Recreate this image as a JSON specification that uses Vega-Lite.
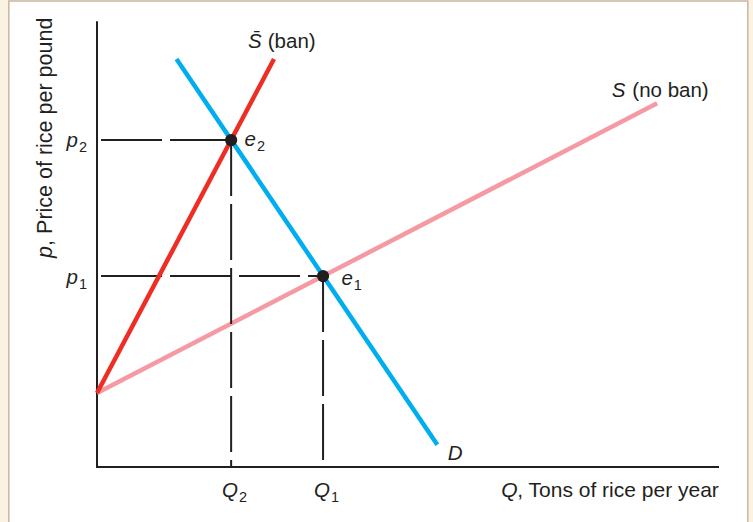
{
  "$schema": "https://vega.github.io/schema/vega-lite/v6.json",
  "width": 621,
  "height": 443,
  "autosize": {"type": "none"},
  "padding": {"left": 97, "top": 24, "right": 35, "bottom": 55},
  "background": "#FBF3E1",
  "config": {
    "view": {"stroke": null},
    "font": "Liberation Sans",
    "text": {"font": "Liberation Sans", "color": "#231F20", "fontSize": 20.5, "baseline": "alphabetic"}
  },
  "datasets": {
    "panel": [{"q": -14.2, "q2": 104.8, "p": 105.2, "p2": -14}],
    "axes": [
      {"axis": "Q", "q": 0, "p": 0, "q2": 100, "p2": 0},
      {"axis": "p", "q": 0, "p": 0, "q2": 0, "p2": 100.4}
    ],
    "curves": [
      {"curve": "S (no ban)", "q": 0, "p": 16.7},
      {"curve": "S (no ban)", "q": 90.2, "p": 82.1},
      {"curve": "S ban", "q": 0, "p": 16.7},
      {"curve": "S ban", "q": 28.5, "p": 92.1},
      {"curve": "D", "q": 12.8, "p": 92.1},
      {"curve": "D", "q": 54.8, "p": 5.0}
    ],
    "hGuides": [
      {"guide": "p2", "q": 0.65, "p": 73.8},
      {"guide": "p2", "q": 21.6, "p": 73.8},
      {"guide": "p1", "q": 0.65, "p": 43.1},
      {"guide": "p1", "q": 36.4, "p": 43.1}
    ],
    "vGuides": [
      {"guide": "Q2", "q": 21.6, "p": 73.8},
      {"guide": "Q2", "q": 21.6, "p": 0},
      {"guide": "Q1", "q": 36.4, "p": 43.1},
      {"guide": "Q1", "q": 36.4, "p": 0}
    ],
    "equilibria": [
      {"name": "e2", "q": 21.6, "p": 73.8},
      {"name": "e1", "q": 36.4, "p": 43.1}
    ],
    "indexed": [
      {"sym": "p", "sub": "2", "q": -3.06, "p": 72.2},
      {"sym": "p", "sub": "1", "q": -3.06, "p": 41.3},
      {"sym": "e", "sub": "2", "q": 25.6, "p": 72.5},
      {"sym": "e", "sub": "1", "q": 41.2, "p": 41.1},
      {"sym": "Q", "sub": "2", "q": 22.7, "p": -6.77},
      {"sym": "Q", "sub": "1", "q": 37.5, "p": -6.77}
    ],
    "italicText": [
      {"text": "S\u0304", "q": 24.3, "p": 94.6},
      {"text": "S", "q": 82.9, "p": 83.5},
      {"text": "D", "q": 56.5, "p": 1.58}
    ],
    "romanText": [
      {"text": "(ban)", "q": 27.5, "p": 94.6},
      {"text": "(no ban)", "q": 86.2, "p": 83.5}
    ],
    "xTitle": [
      {"sym": "Q", "rest": ", Tons of rice per year", "q": 65.1, "p": -6.77}
    ],
    "yTitle": [
      {"sym": "p", "rest": ", Price of rice per pound", "q": -7.25, "p": 47.2}
    ]
  },
  "encoding": {
    "x": {
      "field": "q",
      "type": "quantitative",
      "scale": {"domain": [0, 100], "nice": false, "zero": false},
      "axis": null
    },
    "y": {
      "field": "p",
      "type": "quantitative",
      "scale": {"domain": [0, 100], "nice": false, "zero": false},
      "axis": null
    }
  },
  "layer": [
    {
      "data": {"name": "panel"},
      "mark": {"type": "rect", "fill": "white", "stroke": "#C9B6A4", "strokeWidth": 1.5},
      "encoding": {"x2": {"field": "q2"}, "y2": {"field": "p2"}}
    },
    {
      "data": {"name": "axes"},
      "mark": {"type": "rule", "color": "#231F20", "strokeWidth": 2, "strokeCap": "square"},
      "encoding": {"x2": {"field": "q2"}, "y2": {"field": "p2"}}
    },
    {
      "data": {"name": "curves"},
      "transform": [{"filter": "datum.curve === 'S (no ban)'"}],
      "mark": {"type": "line", "color": "#F59AA3", "strokeWidth": 4.5, "strokeCap": "butt"},
      "encoding": {"detail": {"field": "curve"}}
    },
    {
      "data": {"name": "hGuides"},
      "mark": {"type": "line", "color": "#231F20", "strokeWidth": 2, "strokeDash": [61, 8]},
      "encoding": {"detail": {"field": "guide"}}
    },
    {
      "data": {"name": "vGuides"},
      "mark": {"type": "line", "color": "#231F20", "strokeWidth": 2, "strokeDash": [56, 8]},
      "encoding": {"detail": {"field": "guide"}}
    },
    {
      "data": {"name": "curves"},
      "transform": [{"filter": "datum.curve !== 'S (no ban)'"}],
      "mark": {"type": "line", "strokeWidth": 4.5, "strokeCap": "butt"},
      "encoding": {
        "detail": {"field": "curve"},
        "color": {
          "field": "curve",
          "type": "nominal",
          "scale": {"domain": ["S ban", "D"], "range": ["#EE2E24", "#00AEEF"]},
          "legend": null
        }
      }
    },
    {
      "data": {"name": "equilibria"},
      "mark": {"type": "point", "filled": true, "size": 150, "color": "#231F20", "opacity": 1}
    },
    {
      "data": {"name": "indexed"},
      "mark": {"type": "text", "fontStyle": "italic", "align": "right"},
      "encoding": {"text": {"field": "sym"}}
    },
    {
      "data": {"name": "indexed"},
      "mark": {"type": "text", "fontSize": 14.5, "align": "left", "dx": 1, "dy": 5},
      "encoding": {"text": {"field": "sub"}}
    },
    {
      "data": {"name": "italicText"},
      "mark": {"type": "text", "fontStyle": "italic", "align": "left"},
      "encoding": {"text": {"field": "text"}}
    },
    {
      "data": {"name": "romanText"},
      "mark": {"type": "text", "align": "left"},
      "encoding": {"text": {"field": "text"}}
    },
    {
      "data": {"name": "xTitle"},
      "mark": {"type": "text", "fontStyle": "italic", "align": "left", "fontSize": 21},
      "encoding": {"text": {"field": "sym"}}
    },
    {
      "data": {"name": "xTitle"},
      "mark": {"type": "text", "align": "left", "fontSize": 21, "dx": 16},
      "encoding": {"text": {"field": "rest"}}
    },
    {
      "data": {"name": "yTitle"},
      "mark": {"type": "text", "fontStyle": "italic", "align": "left", "angle": 270, "fontSize": 21.5},
      "encoding": {"text": {"field": "sym"}}
    },
    {
      "data": {"name": "yTitle"},
      "mark": {"type": "text", "align": "left", "angle": 270, "fontSize": 21.5, "dx": 12},
      "encoding": {"text": {"field": "rest"}}
    }
  ]
}
